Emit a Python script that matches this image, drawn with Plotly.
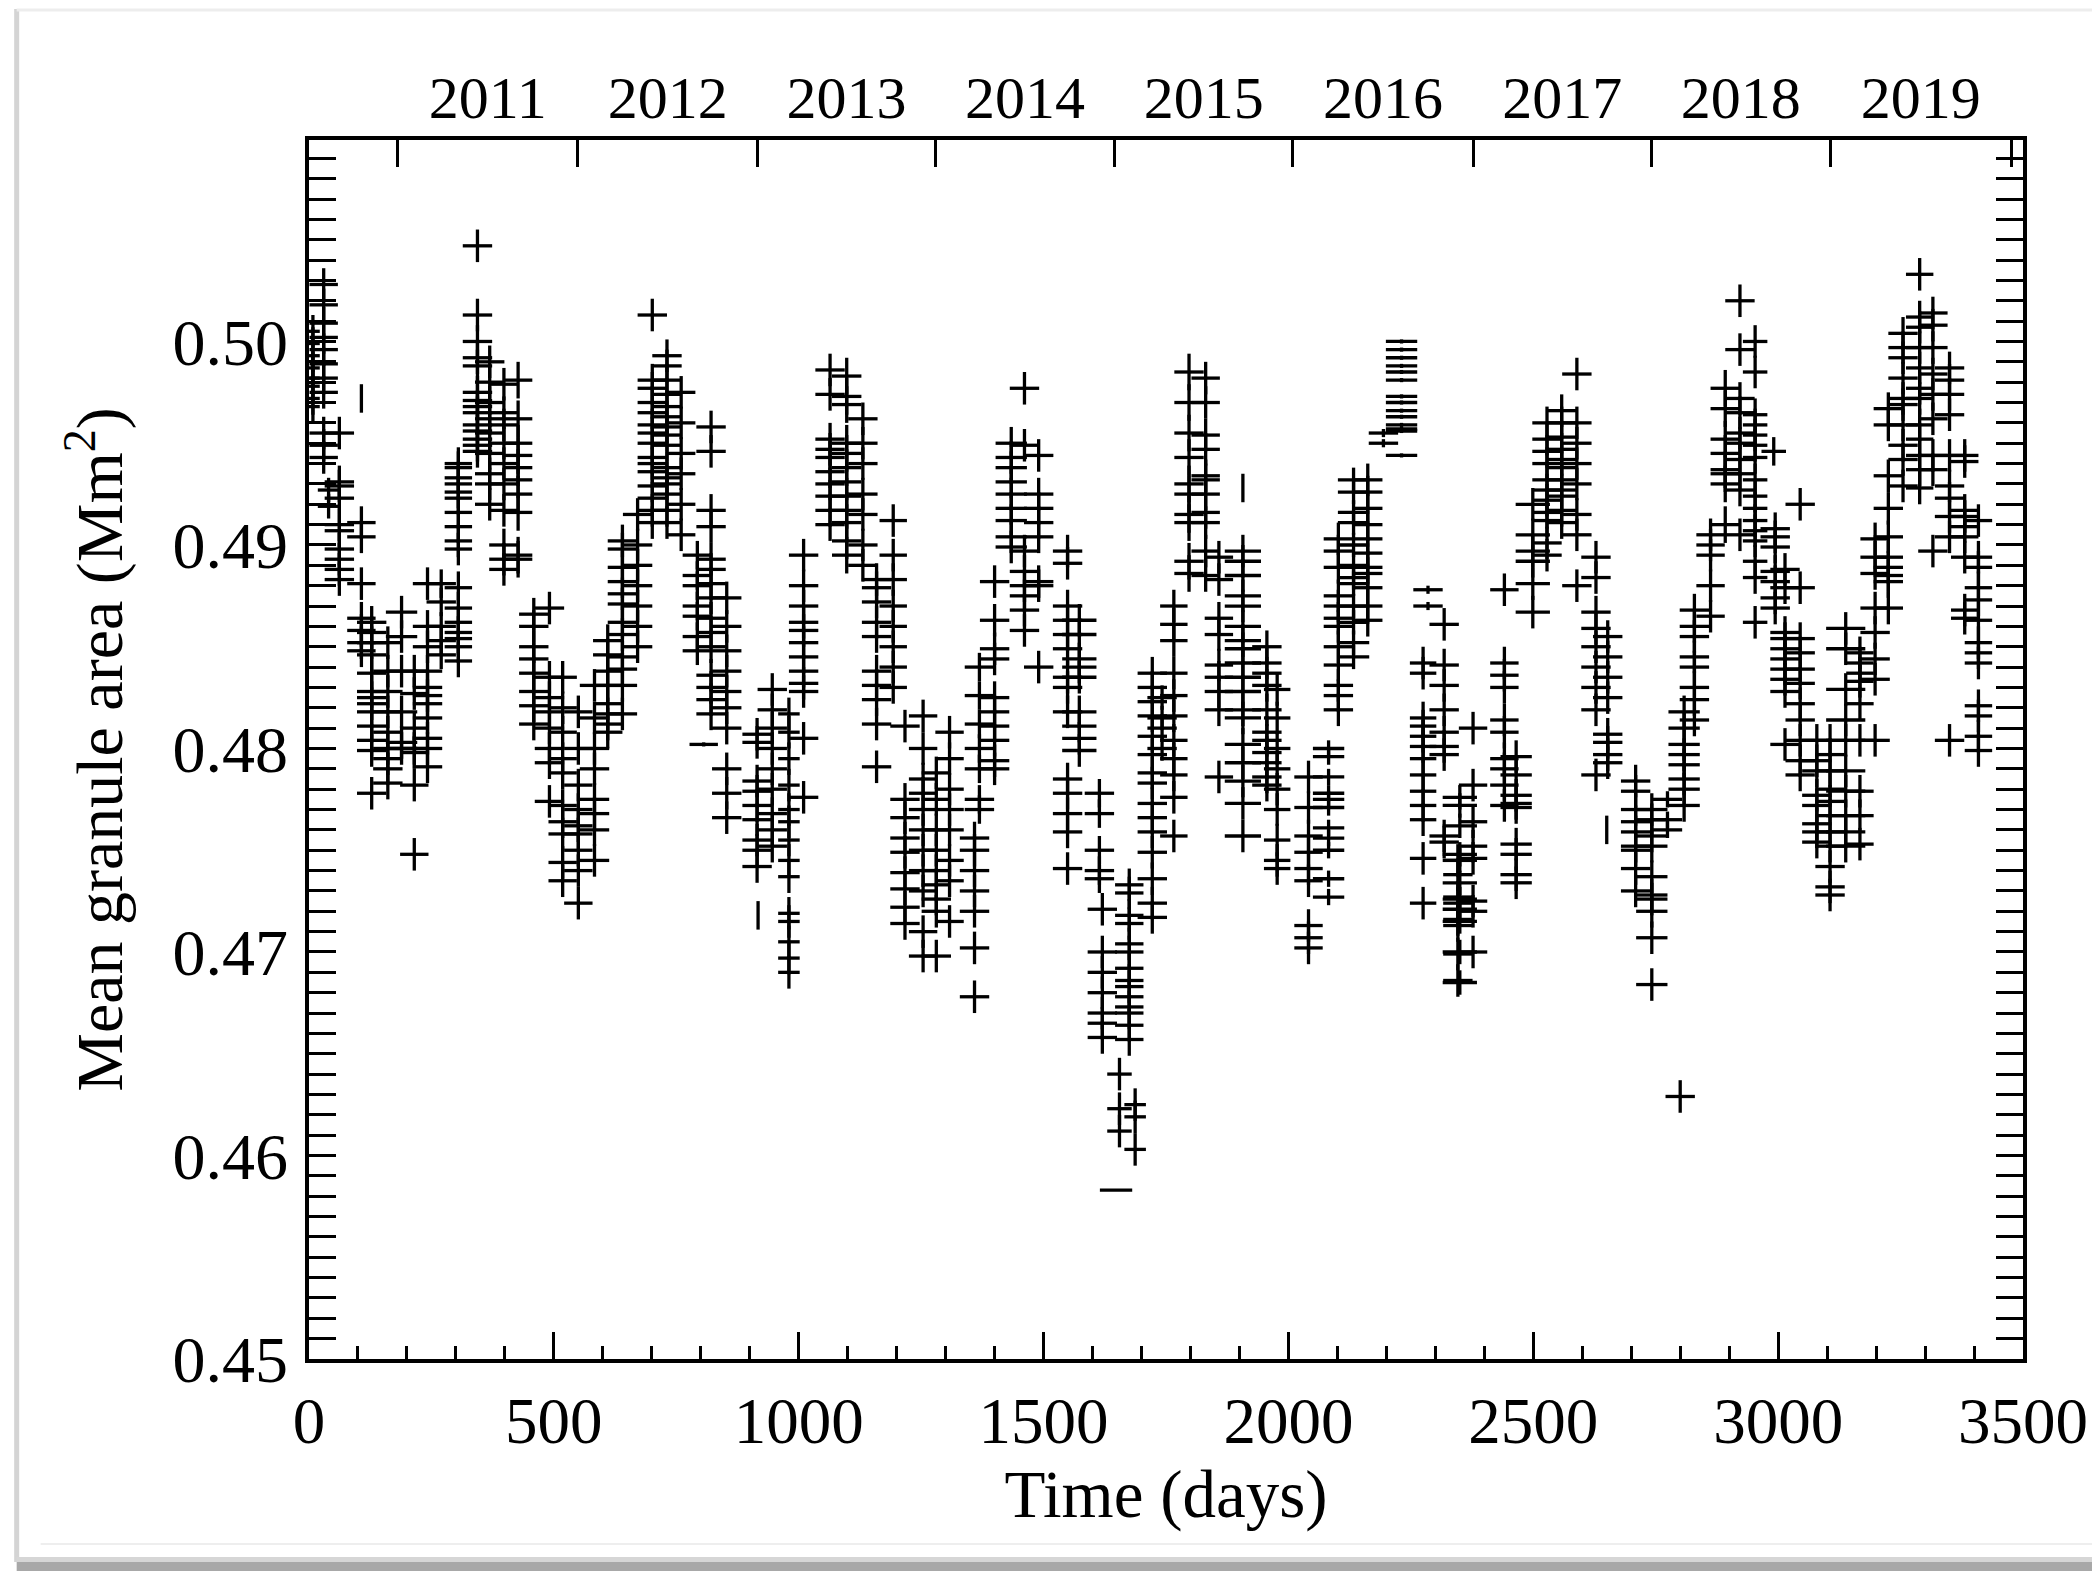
import plotly.graph_objects as go

# ---------------- data ----------------
# each column: centre day, half-width in days, half-height in Mm^2, list of values
col_day = [8, 30, 62, 40, 107, 107, 128, 161, 189, 215, 242, 270, 305, 344, 369, 398, 427, 459, 491, 518, 550,
           583, 610, 640, 671, 701, 731, 760, 793, 821, 853, 806, 915, 917, 946, 980, 1010, 1064, 1098, 1131, 1159,
           1193, 1217, 1254, 1281, 1308, 1359, 1369, 1400, 1434, 1461, 1490, 1549, 1573, 1614, 1620, 1648, 1655,
           1675, 1687, 1722, 1742,
           1766, 1797, 1831, 1858, 1907, 1907, 1956, 1977, 2041, 2082, 2102, 2133, 2162, 2194, 2231, 2285, 2275,
           2318, 2346,
           2350, 2377, 2441, 2465, 2499, 2528, 2558, 2589, 2628, 2652, 2650, 2709, 2742, 2774, 2808, 2800, 2829,
           2862, 2892, 2922,
           2953, 2991, 2994, 3014, 3045, 3079, 3106, 3138, 3167, 3198, 3225, 3255, 3289, 3316, 3350, 3381, 3409]

col_xerr = [14, 29, 30, 22, 0, 29, 30, 30, 32, 29, 30, 30, 28, 30, 30, 30, 29, 30, 30, 29, 29,
            30, 30, 30, 30, 30, 30, 29, 30, 30, 30, 29, 30, 0, 30, 22, 30, 30, 30, 30, 30,
            28, 30, 29, 30, 29, 30, 30, 30, 32, 30, 30, 30, 35, 30, 30, 33, 25,
            29, 22, 30, 30,
            28, 30, 29, 29, 0, 37, 30, 27, 29, 32, 30, 32, 30, 30, 32, 30, 27,
            30, 30,
            35, 29, 29, 32, 35, 30, 32, 30, 30, 30, 0, 30, 32, 30, 32, 30, 30,
            29, 30, 30,
            25, 25, 30, 30, 30, 30, 30, 40, 28, 30, 30, 30, 28, 30, 30, 28, 28]

col_yerr = [0.0008, 0.0008, 0.0008, 0.0006, 0.0007, 0.0008, 0.0008, 0.0008, 0.0008, 0.0008, 0.0008, 0.0007,
            0.0008, 0.0008, 0.0008, 0.0008, 0.0009, 0.0008, 0.0008, 0.0008, 0.0008,
            0.0008, 0.0008, 0.0008, 0.0008, 0.0008, 0.0008, 0.0008, 0.0007, 0.0008, 0.0008, 0.0001, 0.0008,
            0.0007, 0.0008, 0.0008, 0.0008, 0.0008, 0.0009, 0.0008, 0.0008,
            0.0008, 0.0008, 0.0008, 0.0008, 0.0008, 0.0008, 0.0007, 0.0008, 0.0008, 0.0008, 0.0008, 0.0008,
            0.0008, 0.0007, 0.0008, 0.0, 0.0008, 0.0008, 0.0008, 0.0008, 0.0006,
            0.0008, 0.0009, 0.0008, 0.0008, 0.0007, 0.0008, 0.0008, 0.0008, 0.0008, 0.0004, 0.0008, 0.0006,
            0.0008, 0.0002, 0.0001, 0.0002, 0.0008, 0.0008, 0.0008,
            0.0006, 0.0008, 0.0008, 0.0008, 0.0008, 0.0008, 0.0008, 0.0008, 0.0008, 0.0008, 0.0007, 0.0008,
            0.0008, 0.0004, 0.0008, 0.0008, 0.0008, 0.0008, 0.0009, 0.0008,
            0.0008, 0.0007, 0.0008, 0.0008, 0.0008, 0.0008, 0.0008, 0.0008, 0.0008, 0.0008, 0.0008, 0.0008,
            0.0008, 0.0008, 0.0008, 0.0008, 0.0008]

col_vals = [
    [0.5005, 0.4999, 0.4993, 0.4987, 0.4982, 0.4978, 0.4972, 0.4968],
    [0.5028, 0.5018, 0.5009, 0.5002, 0.4996, 0.4989, 0.4982, 0.4975, 0.4955, 0.4949, 0.4943],
    [0.4955, 0.4931, 0.4929, 0.4923, 0.4910, 0.4907, 0.4898, 0.4893, 0.4888, 0.4883],
    [0.4927, 0.4919],
    [0.4972],
    [0.4911, 0.4904, 0.4881, 0.4864, 0.4858, 0.4852, 0.4848],
    [0.4862, 0.4857, 0.4852, 0.4846, 0.4837, 0.4828, 0.4825, 0.4822, 0.4818, 0.4811, 0.4804, 0.4799, 0.4778],
    [0.4852, 0.4838, 0.4828, 0.4818, 0.4808, 0.4800, 0.4795, 0.4790, 0.4783],
    [0.4867, 0.4855, 0.4838, 0.4818, 0.4803, 0.4800],
    [0.4838, 0.4827, 0.4810, 0.4800, 0.4798, 0.4782, 0.4748],
    [0.4881, 0.4860, 0.4850, 0.4838, 0.4830, 0.4826, 0.4822, 0.4815, 0.4805, 0.4800, 0.4791],
    [0.4881, 0.4872, 0.4860, 0.4853, 0.4846],
    [0.4940, 0.4938, 0.4933, 0.4930, 0.4926, 0.4923, 0.4916, 0.4909, 0.4902, 0.4898, 0.4879, 0.4869, 0.4862,
     0.4857, 0.4854, 0.4850, 0.4843],
    [0.5047, 0.5013, 0.5000, 0.4992, 0.4988, 0.4975, 0.4971, 0.4968, 0.4965, 0.4959, 0.4956, 0.4952, 0.4949, 0.4946],
    [0.4990, 0.4980, 0.4970, 0.4962, 0.4955, 0.4945, 0.4935, 0.4930, 0.4920],
    [0.4979, 0.4965, 0.4959, 0.4950, 0.4940, 0.4930, 0.4917, 0.4900, 0.4893, 0.4888],
    [0.4981, 0.4962, 0.4950, 0.4944, 0.4938, 0.4932, 0.4925, 0.4916, 0.4895, 0.4893],
    [0.4866, 0.4860, 0.4850, 0.4844, 0.4837, 0.4828, 0.4821, 0.4812],
    [0.4869, 0.4835, 0.4825, 0.4818, 0.4810, 0.4800, 0.4793, 0.4774],
    [0.4835, 0.4820, 0.4808, 0.4795, 0.4788, 0.4772, 0.4764, 0.4758, 0.4744, 0.4735],
    [0.4818, 0.4800, 0.4782, 0.4770, 0.4762, 0.4758, 0.4750, 0.4740, 0.4724],
    [0.4831, 0.4815, 0.4800, 0.4790, 0.4775, 0.4768, 0.4760, 0.4745],
    [0.4853, 0.4846, 0.4838, 0.4831, 0.4822, 0.4817, 0.4812, 0.4808],
    [0.4902, 0.4898, 0.4889, 0.4882, 0.4876, 0.4871, 0.4862, 0.4856, 0.4845, 0.4839, 0.4831, 0.4817],
    [0.4915, 0.4900, 0.4890, 0.4880, 0.4870, 0.4860, 0.4850],
    [0.5013, 0.4981, 0.4977, 0.4970, 0.4965, 0.4959, 0.4955, 0.4950, 0.4943, 0.4940, 0.4936, 0.4929, 0.4923,
     0.4917, 0.4911],
    [0.4993, 0.4988, 0.4981, 0.4974, 0.4968, 0.4963, 0.4958, 0.4954, 0.4949, 0.4938, 0.4933, 0.4930, 0.4925,
     0.4917, 0.4911],
    [0.4975, 0.4960, 0.4945, 0.4935, 0.4920, 0.4905],
    [0.4895, 0.4885, 0.4880, 0.4870, 0.4865, 0.4855, 0.4848],
    [0.4958, 0.4946, 0.4917, 0.4909, 0.4893, 0.4888, 0.4881, 0.4874, 0.4864, 0.4857, 0.4850, 0.4836, 0.4830,
     0.4824, 0.4817],
    [0.4874, 0.4860, 0.4848, 0.4838, 0.4828, 0.4820, 0.4810, 0.4790, 0.4778, 0.4766],
    [0.4802],
    [0.4807, 0.4803, 0.4784, 0.4779, 0.4772, 0.4765, 0.4755, 0.4750, 0.4742],
    [0.4718],
    [0.4829, 0.4819, 0.4810, 0.4800, 0.4790, 0.4780, 0.4768, 0.4760, 0.4752],
    [0.4817, 0.4808, 0.4795, 0.4782, 0.4770, 0.4764, 0.4755, 0.4745, 0.4737, 0.4719, 0.4715, 0.4705, 0.4697, 0.4690],
    [0.4895, 0.4880, 0.4870, 0.4862, 0.4858, 0.4852, 0.4845, 0.4838, 0.4832, 0.4828, 0.4805, 0.4776],
    [0.4986, 0.4974, 0.4952, 0.4947, 0.4943, 0.4936, 0.4930, 0.4924, 0.4917, 0.4910],
    [0.4983, 0.4973, 0.4969, 0.4950, 0.4945, 0.4938, 0.4931, 0.4924, 0.4917, 0.4911, 0.4902, 0.4895],
    [0.4962, 0.4950, 0.4940, 0.4925, 0.4915, 0.4900, 0.4890],
    [0.4883, 0.4879, 0.4872, 0.4862, 0.4855, 0.4838, 0.4831, 0.4824, 0.4812, 0.4791],
    [0.4912, 0.4895, 0.4883, 0.4870, 0.4860, 0.4850, 0.4840, 0.4830],
    [0.4811, 0.4775, 0.4766, 0.4756, 0.4749, 0.4739, 0.4731, 0.4722, 0.4714],
    [0.4816, 0.4800, 0.4785, 0.4778, 0.4770, 0.4760, 0.4750, 0.4740, 0.4730, 0.4710, 0.4698],
    [0.4788, 0.4775, 0.4760, 0.4750, 0.4740, 0.4733, 0.4726, 0.4720, 0.4698],
    [0.4808, 0.4795, 0.4780, 0.4770, 0.4760, 0.4745, 0.4735, 0.4715],
    [0.4756, 0.4750, 0.4740, 0.4730, 0.4720, 0.4702, 0.4678],
    [0.4840, 0.4826, 0.4812, 0.4800, 0.4790, 0.4775, 0.4770],
    [0.4882, 0.4863, 0.4849, 0.4844, 0.4825, 0.4818, 0.4811, 0.4804, 0.4794, 0.4790],
    [0.4950, 0.4943, 0.4938, 0.4931, 0.4925, 0.4918, 0.4912, 0.4904, 0.4899],
    [0.4977, 0.4949, 0.4897, 0.4887, 0.4880, 0.4875, 0.4868, 0.4858],
    [0.4944, 0.4925, 0.4918, 0.4911, 0.4904, 0.4882, 0.4880, 0.4840],
    [0.4897, 0.4891, 0.4870, 0.4863, 0.4856, 0.4849, 0.4835, 0.4830, 0.4818, 0.4785, 0.4778, 0.4768, 0.4759, 0.4741],
    [0.4863, 0.4856, 0.4844, 0.4840, 0.4835, 0.4818, 0.4811, 0.4805, 0.4799],
    [0.4778, 0.4768, 0.4750, 0.4740, 0.4736],
    [0.4721, 0.4700, 0.4690, 0.4680, 0.4670, 0.4665, 0.4658],
    [0.4583],
    [0.4640, 0.4623, 0.4612],
    [0.4733, 0.4729, 0.4718, 0.4714, 0.4704, 0.4700, 0.4692, 0.4686, 0.4683, 0.4678, 0.4673, 0.4670, 0.4664, 0.4657],
    [0.4625, 0.4619, 0.4603],
    [0.4837, 0.4830, 0.4823, 0.4816, 0.4806, 0.4797, 0.4788, 0.4783, 0.4773, 0.4766, 0.4759, 0.4749, 0.4736,
     0.4724, 0.4717],
    [0.4825, 0.4815, 0.4810, 0.4800],
    [0.4870, 0.4861, 0.4853, 0.4837, 0.4826, 0.4816, 0.4804, 0.4795, 0.4787, 0.4776, 0.4757],
    [0.4985, 0.4970, 0.4955, 0.4943, 0.4930, 0.4925, 0.4915, 0.4911, 0.4892, 0.4886],
    [0.4982, 0.4970, 0.4954, 0.4947, 0.4934, 0.4932, 0.4925, 0.4916, 0.4911, 0.4897, 0.4885],
    [0.4894, 0.4883, 0.4864, 0.4856, 0.4841, 0.4835, 0.4828, 0.4819, 0.4786],
    [0.4928],
    [0.4897, 0.4892, 0.4885, 0.4875, 0.4870, 0.4860, 0.4853, 0.4849, 0.4842, 0.4835, 0.4828, 0.4819, 0.4815,
     0.4802, 0.4793, 0.4784, 0.4773, 0.4757],
    [0.4850, 0.4842, 0.4837, 0.4831, 0.4819, 0.4808, 0.4804, 0.4798, 0.4793, 0.4786, 0.4782],
    [0.4829, 0.4815, 0.4800, 0.4790, 0.4780, 0.4770, 0.4755, 0.4745, 0.4741],
    [0.4786, 0.4771, 0.4757, 0.4749, 0.4741, 0.4735, 0.4713, 0.4707, 0.4702],
    [0.4800, 0.4796, 0.4786, 0.4778, 0.4775, 0.4771, 0.4761, 0.4756, 0.4750, 0.4736, 0.4727],
    [0.4903, 0.4897, 0.4889, 0.4875, 0.4870, 0.4864, 0.4860, 0.4850, 0.4841, 0.4831, 0.4826, 0.4819],
    [0.4932, 0.4926, 0.4916, 0.4911, 0.4900, 0.4890, 0.4884, 0.4881, 0.4870, 0.4862, 0.4852, 0.4845],
    [0.4932, 0.4926, 0.4918, 0.4910, 0.4903, 0.4896, 0.4889, 0.4886, 0.4879, 0.4870, 0.4863],
    [0.4955, 0.4950],
    [0.5000, 0.4996, 0.4992, 0.4988, 0.4985, 0.4981, 0.4973, 0.4970, 0.4966, 0.4963, 0.4959, 0.4957, 0.4956, 0.4944],
    [0.4878, 0.4870],
    [0.4842, 0.4837, 0.4815, 0.4811, 0.4806, 0.4801, 0.4795, 0.4787, 0.4779, 0.4772, 0.4765, 0.4746, 0.4724],
    [0.4861, 0.4841, 0.4831, 0.4819, 0.4808, 0.4801, 0.4797, 0.4757, 0.4754],
    [0.4745, 0.4738, 0.4727, 0.4724, 0.4716, 0.4713, 0.4699, 0.4686],
    [0.4776, 0.4772, 0.4762, 0.4748, 0.4745, 0.4734, 0.4726, 0.4721, 0.4715, 0.4700, 0.4685],
    [0.4810, 0.4782, 0.4764, 0.4752, 0.4746, 0.4725, 0.4720, 0.4700],
    [0.4878, 0.4842, 0.4836, 0.4830, 0.4814, 0.4808, 0.4795, 0.4790, 0.4782, 0.4772],
    [0.4796, 0.4787, 0.4777, 0.4773, 0.4771, 0.4753, 0.4748, 0.4738, 0.4734],
    [0.4920, 0.4905, 0.4897, 0.4892, 0.4881, 0.4867],
    [0.4960, 0.4952, 0.4946, 0.4940, 0.4932, 0.4927, 0.4922, 0.4916, 0.4912, 0.4901, 0.4895],
    [0.4966, 0.4960, 0.4953, 0.4947, 0.4942, 0.4938, 0.4932, 0.4927, 0.4924, 0.4917, 0.4911],
    [0.4984, 0.4960, 0.4950, 0.4940, 0.4930, 0.4915, 0.4905, 0.4880],
    [0.4894, 0.4884, 0.4867, 0.4859, 0.4850, 0.4840, 0.4830, 0.4819, 0.4787],
    [0.4855, 0.4845, 0.4835, 0.4825, 0.4807, 0.4803, 0.4797, 0.4793],
    [0.4760],
    [0.4784, 0.4779, 0.4770, 0.4764, 0.4759, 0.4752, 0.4750, 0.4741, 0.4730],
    [0.4770, 0.4765, 0.4757, 0.4752, 0.4737, 0.4728, 0.4726, 0.4720, 0.4707, 0.4684],
    [0.4775, 0.4765, 0.4760],
    [0.4818, 0.4810, 0.4802, 0.4797, 0.4792, 0.4785, 0.4780, 0.4772],
    [0.4629],
    [0.4868, 0.4860, 0.4855, 0.4845, 0.4840, 0.4830, 0.4824, 0.4814],
    [0.4905, 0.4900, 0.4895, 0.4880, 0.4865],
    [0.4977, 0.4967, 0.4952, 0.4945, 0.4937, 0.4935, 0.4930, 0.4910],
    [0.5020, 0.4996, 0.4972, 0.4965, 0.4955, 0.4950, 0.4942, 0.4935, 0.4927, 0.4905],
    [0.5000, 0.4985, 0.4964, 0.4959, 0.4954, 0.4949, 0.4943, 0.4932, 0.4924, 0.4918, 0.4912, 0.4907, 0.4902,
     0.4892, 0.4884, 0.4862],
    [0.4946],
    [0.4908, 0.4904, 0.4899, 0.4887, 0.4882, 0.4874, 0.4869],
    [0.4888, 0.4879, 0.4857, 0.4854, 0.4849, 0.4844, 0.4839, 0.4834, 0.4828, 0.4802],
    [0.4920, 0.4879, 0.4854, 0.4847, 0.4839, 0.4832, 0.4822, 0.4814, 0.4804, 0.4794, 0.4787],
    [0.4804, 0.4794, 0.4789, 0.4777, 0.4772, 0.4763, 0.4759, 0.4754],
    [0.4804, 0.4797, 0.4789, 0.4780, 0.4774, 0.4767, 0.4759, 0.4752, 0.4742, 0.4732, 0.4728],
    [0.4859, 0.4849, 0.4829, 0.4814, 0.4804, 0.4789, 0.4779, 0.4767, 0.4759, 0.4752],
    [0.4847, 0.4842, 0.4837, 0.4833, 0.4822, 0.4804, 0.4779, 0.4767, 0.4753],
    [0.4903, 0.4894, 0.4886, 0.4869, 0.4857, 0.4844, 0.4834, 0.4804],
    [0.4967, 0.4959, 0.4934, 0.4918, 0.4904, 0.4894, 0.4889, 0.4885, 0.4882, 0.4869],
    [0.5004, 0.4997, 0.4992, 0.4982, 0.4972, 0.4969, 0.4959, 0.4949, 0.4942, 0.4929],
    [0.5033, 0.5012, 0.5007, 0.4997, 0.4987, 0.4977, 0.4972, 0.4959, 0.4952, 0.4944, 0.4937, 0.4928],
    [0.5014, 0.5008, 0.4997, 0.4984, 0.4974, 0.4962, 0.4944, 0.4937, 0.4897],
    [0.4987, 0.4981, 0.4974, 0.4964, 0.4944, 0.4929, 0.4923, 0.4914, 0.4904, 0.4804],
    [0.4944, 0.4941, 0.4917, 0.4914, 0.4909, 0.4904, 0.4894, 0.4868, 0.4864],
    [0.4912, 0.4894, 0.4889, 0.4879, 0.4873, 0.4863, 0.4852, 0.4847, 0.4842, 0.4821, 0.4816, 0.4806, 0.4799],
]

# calendar years on the top axis: year boundaries (day) and labels
year_bounds = [181, 549, 916, 1279, 1645, 2009, 2377, 2741, 3106, 3476]
year_labels = ["2011", "2012", "2013", "2014", "2015", "2016", "2017", "2018", "2019"]

# ---------------- flatten ----------------
xs, ys, exs, eys = [], [], [], []
for d, xe, ye, vals in zip(col_day, col_xerr, col_yerr, col_vals):
    for v in vals:
        xs.append(d)
        ys.append(v)
        exs.append(xe)
        eys.append(ye)

year_mid = [(a + b) / 2 for a, b in zip(year_bounds[:-1], year_bounds[1:])]

FONT = "Liberation Serif"

fig = go.Figure()
fig.add_trace(go.Scatter(
    x=xs, y=ys, mode="markers",
    marker=dict(size=1, color="black"),
    error_x=dict(type="data", array=exs, symmetric=True, width=0, thickness=3.3, color="black"),
    error_y=dict(type="data", array=eys, symmetric=True, width=0, thickness=3.3, color="black"),
    hoverinfo="skip", showlegend=False,
))
# invisible trace to activate the top (calendar year) axis
fig.add_trace(go.Scatter(
    x=[0, 3500], y=[0.45, 0.45], xaxis="x2", mode="markers",
    marker=dict(size=1, opacity=0), hoverinfo="skip", showlegend=False,
))

# page has an 8px body margin; the figure is placed so the plot box lands at
# page pixels x 307..2027, y 139..1359
OFF = 8
W, H = 2100 - OFF, 1571 - OFF
L, R, T, B = 309 - OFF, 2027 - OFF, 140 - OFF, 1359 - OFF


def px(xpage):
    return (xpage - OFF - L) / (R - L)


def py(ypage):
    return (B - (ypage - OFF)) / (B - T)


shapes = [
    # light screenshot frame / shadow around the figure
    dict(type="line", xref="paper", yref="paper", x0=px(16), x1=px(16), y0=py(9), y1=py(1562),
         line=dict(color="#d4d4d4", width=5), layer="below"),
    dict(type="line", xref="paper", yref="paper", x0=px(16), x1=px(2100), y0=py(10), y1=py(10),
         line=dict(color="#ededed", width=3), layer="below"),
    dict(type="line", xref="paper", yref="paper", x0=px(40), x1=px(2100), y0=py(1544), y1=py(1544),
         line=dict(color="#eeeeee", width=2), layer="below"),
    dict(type="rect", xref="paper", yref="paper", x0=px(16), x1=px(2100), y0=py(1571), y1=py(1562),
         fillcolor="#a8a8a8", line=dict(width=0), layer="below"),
    dict(type="rect", xref="paper", yref="paper", x0=px(16), x1=px(2100), y0=py(1562), y1=py(1557),
         fillcolor="#d6d6d6", line=dict(width=0), layer="below"),
]

fig.update_layout(
    width=W, height=H,
    margin=dict(l=L, r=W - R, t=T, b=H - B, pad=0),
    paper_bgcolor="white", plot_bgcolor="white",
    showlegend=False,
    font=dict(family=FONT, color="black", size=64),
    shapes=shapes,
    xaxis=dict(
        range=[0, 3500], tickmode="linear", tick0=0, dtick=500,
        ticks="inside", ticklen=27, tickwidth=3, tickcolor="black",
        showline=True, linewidth=3.5, linecolor="black", mirror=True,
        showgrid=False, zeroline=False,
        minor=dict(tickmode="linear", tick0=0, dtick=100, ticks="inside", ticklen=13,
                   tickwidth=2.5, tickcolor="black", showgrid=False),
        tickfont=dict(family=FONT, size=65, color="black"),
        ticklabelstandoff=2,
        title=dict(text="Time (days)", font=dict(family=FONT, size=67, color="black"), standoff=14),
    ),
    yaxis=dict(
        range=[0.45, 0.5099], tickmode="linear", tick0=0.45, dtick=0.01, tickformat=".2f",
        ticks="inside", ticklen=27, tickwidth=3, tickcolor="black",
        showline=True, linewidth=3.5, linecolor="black", mirror="allticks",
        showgrid=False, zeroline=False,
        minor=dict(tickmode="linear", tick0=0.45, dtick=0.001, ticks="inside", ticklen=18,
                   tickwidth=2.5, tickcolor="black", showgrid=False),
        tickfont=dict(family=FONT, size=66, color="black"),
        ticklabelstandoff=4,
        title=dict(text="Mean granule area (Mm<sup>2</sup>)", font=dict(family=FONT, size=66, color="black"),
                   standoff=29),
    ),
    xaxis2=dict(
        overlaying="x", side="top", range=[0, 3500],
        tickmode="array", tickvals=year_mid, ticktext=year_labels,
        ticks="", showline=False, showgrid=False, zeroline=False,
        tickfont=dict(family=FONT, size=60, color="black"),
        ticklabelstandoff=9,
        minor=dict(tickmode="array", tickvals=year_bounds, ticks="inside", ticklen=27,
                   tickwidth=2.5, tickcolor="black", showgrid=False),
    ),
)

fig.write_html("out.html")
